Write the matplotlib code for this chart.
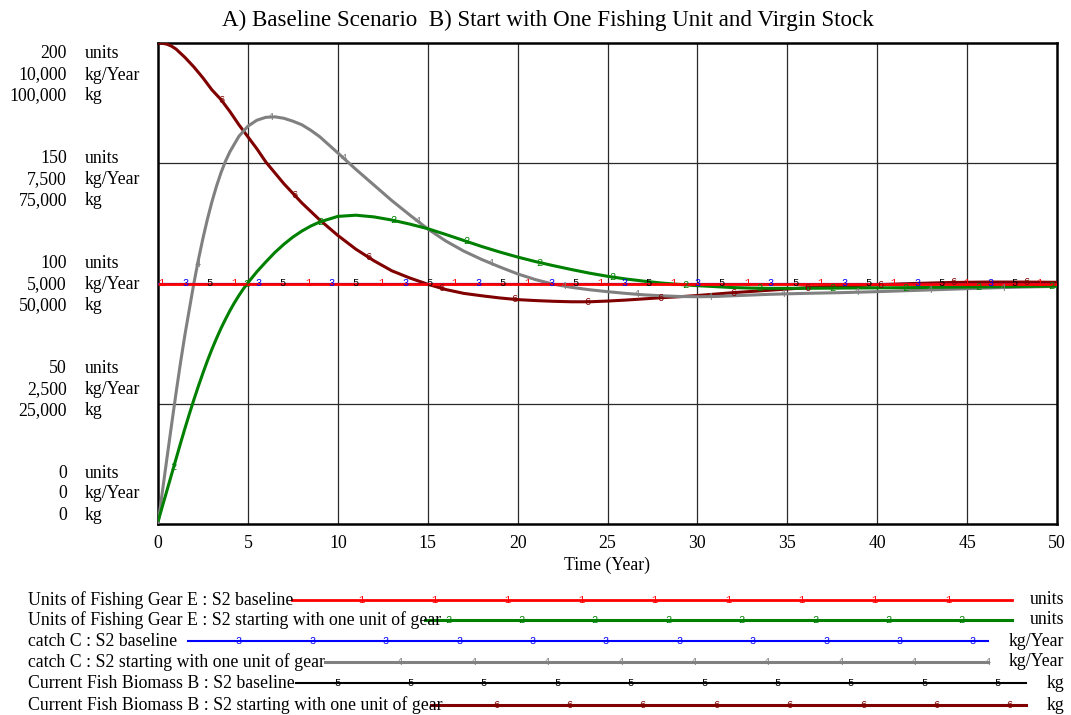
import numpy as np
import matplotlib
matplotlib.use('Agg')
import matplotlib.pyplot as plt

plt.rcParams['font.family'] = ['Liberation Serif', 'DejaVu Serif']

# ---- data ----
t_const = [0, 50]
gear_base = [100, 100]             # units
catch_base = [5000, 5000]          # kg/Year
biomass_base = [50000, 50000]      # kg

t_gear = [0, 0.25, 0.5, 0.75, 1, 1.25, 1.5, 1.75, 2, 2.25, 2.5, 2.75, 3, 3.25,
          3.5, 3.75, 4, 4.25, 4.5, 4.75, 5, 5.5, 6, 6.5, 7, 7.5, 8, 8.5, 9, 10,
          11, 12, 13, 14, 15, 16, 17, 18, 19, 20, 21, 22, 23, 24, 25, 26, 27,
          28, 29, 30, 31, 32, 33, 34, 36, 38, 40, 42, 44, 46, 48, 50]
gear_one = [1, 7.5, 14, 20.5, 27, 33.5, 39.8, 45.9, 51.8, 57.4, 62.8, 67.9,
            72.7, 77.1, 81.3, 85.1, 88.7, 92.0, 95.0, 97.8, 100.3, 104.9, 109.0,
            112.9, 116.3, 119.3, 121.8, 123.9, 125.6, 127.9, 128.4, 127.7, 126.4,
            124.7, 122.8, 120.4, 117.9, 115.4, 113.1, 111.0, 109.1, 107.4, 105.8,
            104.3, 103.0, 101.9, 101.0, 100.2, 99.6, 99.1, 98.7, 98.3, 98.1, 98.0,
            98.0, 98.1, 98.2, 98.3, 98.5, 98.6, 98.8, 98.9]

t_catch = [0, 0.25, 0.5, 0.75, 1, 1.25, 1.5, 1.75, 2, 2.25, 2.5, 2.75, 3, 3.25,
           3.5, 3.75, 4, 4.5, 5, 5.5, 6, 6.5, 7, 7.5, 8, 8.5, 9, 10, 11, 12, 13,
           14, 15, 16, 17, 18, 19, 20, 21, 22, 23, 24, 25, 26, 27, 28, 29, 30,
           31, 32, 33, 34, 35, 36, 38, 40, 42, 44, 46, 48, 50]
catch_one = [0, 690, 1375, 2050, 2715, 3350, 3940, 4480, 5015, 5500, 5940, 6340,
             6700, 7020, 7300, 7540, 7740, 8060, 8270, 8395, 8455, 8465, 8435,
             8375, 8300, 8185, 8050, 7715, 7375, 7050, 6725, 6425, 6135, 5885,
             5675, 5500, 5345, 5200, 5080, 4985, 4920, 4870, 4830, 4795, 4765,
             4745, 4730, 4725, 4730, 4745, 4760, 4775, 4785, 4795, 4810, 4830,
             4855, 4880, 4905, 4925, 4940]

t_bio = [0, 0.25, 0.5, 0.75, 1, 1.5, 2, 2.5, 3, 3.5, 4, 4.5, 5, 5.5, 6, 6.5, 7,
         7.5, 8, 9, 10, 11, 12, 13, 14, 15, 16, 17, 18, 19, 20, 21, 22, 23, 24,
         25, 26, 27, 28, 29, 30, 31, 32, 33, 34, 35, 36, 38, 40, 42, 44, 46,
         48, 50]
biomass_one = [100000, 99950, 99750, 99350, 98750, 97000, 95000, 92750, 90250,
               88250, 85750, 83000, 80500, 78000, 75250, 73000, 70750, 68750,
               66750, 63200, 60000, 57150, 54750, 52650, 51150, 49850, 48750,
               47950, 47450, 47000, 46650, 46450, 46300, 46200, 46200, 46350,
               46550, 46800, 47050, 47250, 47500, 47800, 48100, 48350, 48600,
               48850, 49100, 49450, 49750, 50000, 50200, 50300, 50300, 50250]

# unit scales: 200 units = 10,000 kg/Year = 100,000 kg
scale = {'units': 1.0, 'kg/Year': 50.0, 'kg': 500.0}

series = [
    ('Units of Fishing Gear E : S2 baseline', t_const, gear_base, 'units', '#ff0000', 2.0),
    ('Units of Fishing Gear E : S2 starting with one unit of gear', t_gear, gear_one, 'units', '#008000', 2.2),
    ('catch C : S2 baseline', t_const, catch_base, 'kg/Year', '#0000ff', 1.5),
    ('catch C : S2 starting with one unit of gear', t_catch, catch_one, 'kg/Year', '#808080', 2.2),
    ('Current Fish Biomass B : S2 baseline', t_const, biomass_base, 'kg', '#000000', 1.5),
    ('Current Fish Biomass B : S2 starting with one unit of gear', t_bio, biomass_one, 'kg', '#800000', 2.2),
]

FS = 12.75
W, H = 1071, 715
fig = plt.figure(figsize=(W / 100, H / 100), dpi=100)
ax = fig.add_axes([158 / W, 1 - 524 / H, 899 / W, 481 / H])
ax.set_xlim(0, 50)
ax.set_ylim(0, 200)

# grid
for x in range(5, 50, 5):
    ax.axvline(x, color='#2a2a2a', lw=0.9, zorder=1)
for y in (50, 100, 150):
    ax.axhline(y, color='#2a2a2a', lw=0.9, zorder=1)
for s in ax.spines.values():
    s.set_linewidth(1.8)

# lines and number markers
for i, (name, t, v, unit, col, lw) in enumerate(series):
    y = np.array(v, dtype=float) / scale[unit]
    ax.plot(t, y, color=col, lw=lw, zorder=10 - i, solid_capstyle='butt',
            solid_joinstyle='round')
    mt = 0.2 + 0.667 * i
    while mt < 50:
        my = np.interp(mt, t, y)
        ax.text(mt, my, str(i + 1), color=col, fontsize=7.5, family='Liberation Mono',
                ha='center', va='center', zorder=11)
        mt += 4.07

ax.set_xticks(range(0, 51, 5))
ax.set_xticklabels([str(x) for x in range(0, 51, 5)], fontsize=FS)
ax.tick_params(axis='x', length=0, pad=8)
ax.set_yticks([])
ax.set_xlabel('Time (Year)', fontsize=FS, labelpad=3)

# stacked y labels
for k in range(5):
    ymid = 494 - k * 104.75
    vals = [k * 50, k * 2500, k * 25000]
    units = ['units', 'kg/Year', 'kg']
    for j in range(3):
        yy = 1 - (ymid + (j - 1) * 21) / H
        fig.text(67 / W, yy, f'{vals[j]:,}', ha='right', va='center', fontsize=FS)
        fig.text(85 / W, yy, units[j], ha='left', va='center', fontsize=FS)

fig.text(548 / W, 1 - 20 / H, 'A) Baseline Scenario  B) Start with One Fishing Unit and Virgin Stock',
         ha='center', va='center', fontsize=16.6)

# legend
row_y = [600, 620, 641, 662, 683, 705]
line_x0 = [292, 425, 188, 325, 296, 431]
line_x1 = [1012, 1012, 988, 988, 1026, 1026]
mark_x0 = [361, 448, 239, 400, 337, 496]
for i, (name, t, v, unit, col, lw) in enumerate(series):
    yy = 1 - row_y[i] / H
    fig.text(28 / W, yy, name, ha='left', va='center', fontsize=FS)
    fig.add_artist(plt.Line2D([line_x0[i] / W, line_x1[i] / W], [yy, yy],
                              color=col, lw=lw, transform=fig.transFigure))
    mx = mark_x0[i]
    while mx <= line_x1[i]:
        fig.text(mx / W, yy, str(i + 1), color=col, fontsize=7.5, family='Liberation Mono',
                 ha='center', va='center')
        mx += 73.4
    fig.text(1064 / W, yy, unit, ha='right', va='center', fontsize=FS)

fig.savefig('out.png', dpi=100)
